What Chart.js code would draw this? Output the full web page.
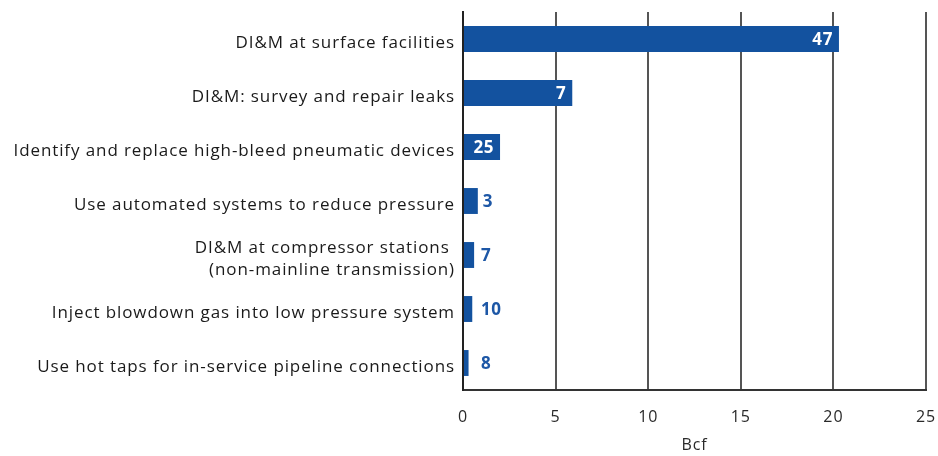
<!DOCTYPE html>
<html>
<head>
<meta charset="utf-8">
<script src="https://cdn.jsdelivr.net/npm/chart.js@4"></script>
<style>
  html, body { margin: 0; padding: 0; background: #ffffff; }
  #wrap { width: 938px; height: 456px; }
</style>
</head>
<body>
<div id="wrap"><canvas id="c" width="938" height="456"></canvas></div>
<script>
// Reduction measures and their gas savings
const measures = [
  'DI&M at surface facilities',
  'DI&M: survey and repair leaks',
  'Identify and replace high-bleed pneumatic devices',
  'Use automated systems to reduce pressure',
  ['DI&M at compressor stations ', '(non-mainline transmission)'],
  'Inject blowdown gas into low pressure system',
  'Use hot taps for in-service pipeline connections'
];
const savingsBcf = [20.3, 5.9, 2.0, 0.8, 0.6, 0.5, 0.3];
const barNumbers = [47, 7, 25, 3, 7, 10, 8];
const xTicks = [0, 5, 10, 15, 20, 25];

const FONT = '"Open Sans", "Liberation Sans", sans-serif';
const BAR_BLUE = '#13529f';
const TRACKING = '0.9px';

// Slightly open letter tracking for every text drawn on the canvas
const trackingPlugin = {
  id: 'tracking',
  beforeUpdate(chart) { chart.ctx.letterSpacing = TRACKING; },
  beforeLayout(chart) { chart.ctx.letterSpacing = TRACKING; },
  beforeDraw(chart) { chart.ctx.letterSpacing = TRACKING; }
};

// Numbers printed at the end of each bar: inside (white) when they fit, else outside (blue)
const barNumberPlugin = {
  id: 'barNumbers',
  afterDatasetsDraw(chart) {
    const ctx = chart.ctx;
    const meta = chart.getDatasetMeta(0);
    const x0 = chart.scales.x.getPixelForValue(0);
    ctx.save();
    ctx.letterSpacing = '0.6px';
    ctx.font = 'bold 17px ' + FONT;
    ctx.textBaseline = 'middle';
    meta.data.forEach((bar, i) => {
      const txt = String(barNumbers[i]);
      const w = ctx.measureText(txt).width;
      const barW = bar.x - x0;
      if (barW >= w + 8) {
        const inset = Math.min(6, (barW - w) / 2);
        ctx.fillStyle = '#ffffff';
        ctx.textAlign = 'right';
        ctx.fillText(txt, bar.x - inset, bar.y + 1);
      } else {
        ctx.fillStyle = '#1d57a6';
        ctx.textAlign = 'left';
        ctx.fillText(txt, Math.max(bar.x + 5, x0 + 18), bar.y + 1);
      }
    });
    ctx.restore();
  }
};

new Chart(document.getElementById('c'), {
  type: 'bar',
  data: {
    labels: measures,
    datasets: [{
      data: savingsBcf,
      backgroundColor: BAR_BLUE,
      borderWidth: 0,
      categoryPercentage: 0.96,
      barPercentage: 0.5
    }]
  },
  options: {
    indexAxis: 'y',
    responsive: false,
    animation: false,
    devicePixelRatio: 1,
    layout: { padding: 0 },
    plugins: {
      legend: { display: false },
      tooltip: { enabled: false }
    },
    scales: {
      x: {
        type: 'linear',
        min: 0,
        max: 25,
        afterBuildTicks(scale) { scale.ticks = xTicks.map(v => ({ value: v })); },
        afterFit(scale) {
          scale.height = 66;
          scale.paddingLeft = 0;
          scale.paddingRight = 12;
        },
        grid: {
          color: '#555555',
          lineWidth: 2,
          drawTicks: false
        },
        border: { display: true, color: '#333333', width: 2 },
        ticks: {
          padding: 18,
          color: '#2a2a2a',
          font: { family: FONT, size: 16 }
        },
        title: {
          display: true,
          text: 'Bcf',
          color: '#2a2a2a',
          font: { family: FONT, size: 16 },
          padding: { top: 0, bottom: 1 }
        }
      },
      y: {
        afterFit(scale) {
          scale.width = 463;
          scale.paddingTop = 12;
          scale.paddingBottom = 0;
        },
        grid: { display: false, drawTicks: false },
        border: { display: true, color: '#222222', width: 2 },
        ticks: {
          padding: 8,
          labelOffset: 4,
          color: '#1a1a1a',
          font: { family: FONT, size: 17, lineHeight: 1.3 }
        }
      }
    }
  },
  plugins: [trackingPlugin, barNumberPlugin]
});
</script>
</body>
</html>
